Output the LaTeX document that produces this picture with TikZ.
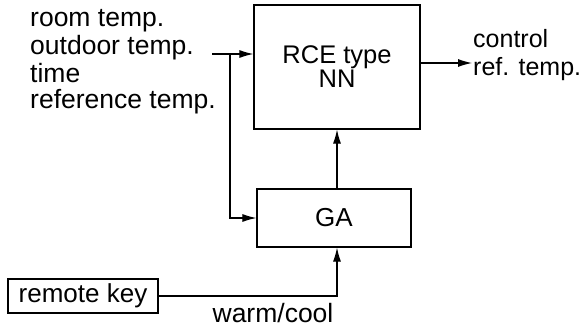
\documentclass[tikz,border=0pt]{standalone}
\usepackage{fontspec}
\setmainfont{Liberation Sans}
\usetikzlibrary{arrows.meta}
\begin{document}
\begin{tikzpicture}[x=1pt,y=-1pt,
  blk/.style={draw, line width=1.2pt, inner sep=0pt},
  lbl/.style={inner sep=0pt, anchor=base west, font=\fontsize{26.5}{27}\selectfont},
  conn/.style={line width=1.1pt, -{Latex[length=14pt,width=8pt]}}]
\useasboundingbox (0,0) rectangle (585,329);
% blocks
\node[blk, minimum width=166pt, minimum height=124pt, align=center,
      font=\fontsize{25.5}{25}\selectfont] (rce) at (337,67) {RCE type\\[-1pt]NN};
\node[blk, minimum width=154pt, minimum height=58pt,
      font=\fontsize{26}{25}\selectfont] (ga) at (334,218) {GA};
\node[blk, line width=1.1pt, minimum width=150pt, minimum height=34pt,
      font=\fontsize{26}{25}\selectfont] (rk) at (83,296) {remote key};
% left labels
\node[lbl] (l1) at (30,27) {room temp.};
\node[lbl] (l2) at (30,54) {outdoor temp.};
\node[lbl] (l3) at (30,82) {time};
\node[lbl] (l4) at (30,108) {reference temp.};
% output labels
\node[lbl, font=\fontsize{25}{27}\selectfont] (o1) at (473,48) {control};
\node[lbl, font=\fontsize{25}{27}\selectfont] (o2) at (473,75) {ref. temp.};
% bottom label
\node[lbl, anchor=base] (wc) at (273,322) {warm/cool};
% coordinates
\coordinate (in) at (212,54);
\coordinate (br) at (230,54);
\coordinate (out) at (472,63);
% connectors
\draw[conn] (in) -- (in -| rce.west);
\draw[conn] (br) |- (ga.west);
\draw[conn] (out -| rce.east) -- (out);
\draw[conn] (rce.south |- ga.north) -- (rce.south);
\draw[conn] (rk.east) -| (rce.south |- ga.south);
\end{tikzpicture}
\end{document}
